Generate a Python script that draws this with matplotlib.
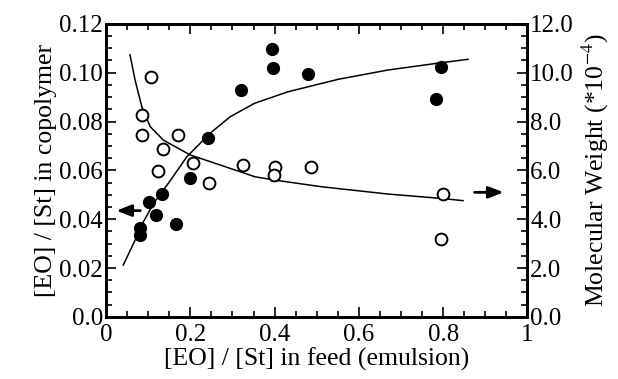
import matplotlib
matplotlib.use("Agg")
import matplotlib.pyplot as plt
from matplotlib.ticker import MultipleLocator, FormatStrFormatter

plt.rcParams['font.family'] = ['Liberation Serif', 'DejaVu Serif']
plt.rcParams['mathtext.fontset'] = 'stix'

# EO/St in copolymer (filled circles, left axis)
feed_comp = [0.081, 0.081, 0.103, 0.119, 0.132, 0.166, 0.200, 0.241, 0.320, 0.393, 0.397, 0.480, 0.796, 0.784]
ratio_comp = [0.0362, 0.0335, 0.0471, 0.0417, 0.0502, 0.0380, 0.0567, 0.0732, 0.0930, 0.1096, 0.1018, 0.0995, 0.1022, 0.0893]

# molecular weight (open circles, right axis)
feed_mw = [0.106, 0.085, 0.085, 0.172, 0.136, 0.124, 0.206, 0.245, 0.324, 0.402, 0.399, 0.486, 0.800, 0.795]
mw = [9.84, 8.27, 7.45, 7.45, 6.86, 5.97, 6.29, 5.49, 6.22, 6.15, 5.81, 6.14, 5.02, 3.18]

# fitted curves
fit1_x = [0.041, 0.069, 0.089, 0.113, 0.148, 0.192, 0.247, 0.295, 0.353, 0.432, 0.551, 0.669, 0.796, 0.859]
fit1_y = [0.0212, 0.0314, 0.0390, 0.0465, 0.0547, 0.0656, 0.0752, 0.0820, 0.0875, 0.0922, 0.0973, 0.1011, 0.1041, 0.1055]
fit2_x = [0.057, 0.069, 0.085, 0.105, 0.136, 0.200, 0.271, 0.353, 0.401, 0.511, 0.669, 0.796, 0.847]
fit2_y = [10.73, 9.70, 8.61, 7.79, 7.24, 6.63, 6.22, 5.74, 5.60, 5.33, 5.03, 4.85, 4.76]

x_ticks = [0, 0.2, 0.4, 0.6, 0.8, 1.0]
x_labels = ['0', '0.2', '0.4', '0.6', '0.8', '1']
y_ticks = [0, 0.02, 0.04, 0.06, 0.08, 0.10, 0.12]
y_labels = ['0.0', '0.02', '0.04', '0.06', '0.08', '0.10', '0.12']

fs = 18.5
tfs = 18

fig = plt.figure(figsize=(6.18, 3.79), dpi=100)
ax = fig.add_axes([0.1715, 0.164, 0.682, 0.773])
ax2 = ax.twinx()

ax.plot(fit1_x, fit1_y, color='black', lw=1.1)
ax.plot(feed_comp, ratio_comp, 'o', color='black', ms=8.5, zorder=3)
ax2.plot(fit2_x, fit2_y, color='black', lw=1.1)
ax2.plot(feed_mw, mw, 'o', mfc='white', mec='black', mew=1.4, ms=8.5, zorder=3)

# arrows pointing to the axes
arrow_style = dict(arrowstyle='-|>,head_length=0.9,head_width=0.35',
                   color='black', lw=2, mutation_scale=10)
ax.annotate('', xy=(0.018, 0.0435), xytext=(0.088, 0.0435), arrowprops=arrow_style)
ax2.annotate('', xy=(0.950, 5.1), xytext=(0.868, 5.1), arrowprops=arrow_style)

ax.set_xticks(x_ticks, x_labels)
ax.set_yticks(y_ticks, y_labels)
ax.xaxis.set_minor_locator(MultipleLocator(0.05))
ax.yaxis.set_minor_locator(MultipleLocator(0.005))
ax2.yaxis.set_major_locator(MultipleLocator(2))
ax2.yaxis.set_minor_locator(MultipleLocator(0.5))
ax2.yaxis.set_major_formatter(FormatStrFormatter('%.1f'))
ax.set_xlim(0, 1)
ax.set_ylim(0, 0.12)
ax2.set_ylim(0, 12)

ax.tick_params(which='both', direction='in', top=True, labelsize=tfs, width=1.2)
ax.tick_params(axis='x', which='both', pad=5)
ax.tick_params(axis='y', which='both', pad=2)
ax.tick_params(which='major', length=7)
ax.tick_params(which='minor', length=4)
ax2.tick_params(which='both', direction='in', labelsize=tfs, width=1.2, pad=2)
ax2.tick_params(which='major', length=7)
ax2.tick_params(which='minor', length=4)

for a in (ax, ax2):
    for s in a.spines.values():
        s.set_linewidth(2)

ax.set_xlabel('[EO] / [St] in feed (emulsion)', fontsize=fs, labelpad=1.5)
ax.set_ylabel('[EO] / [St] in copolymer', fontsize=fs, labelpad=2)
ax2.set_ylabel('Molecular Weight (*10$^{-4}$)', fontsize=fs, labelpad=4)

fig.savefig('out.png', dpi=100)
